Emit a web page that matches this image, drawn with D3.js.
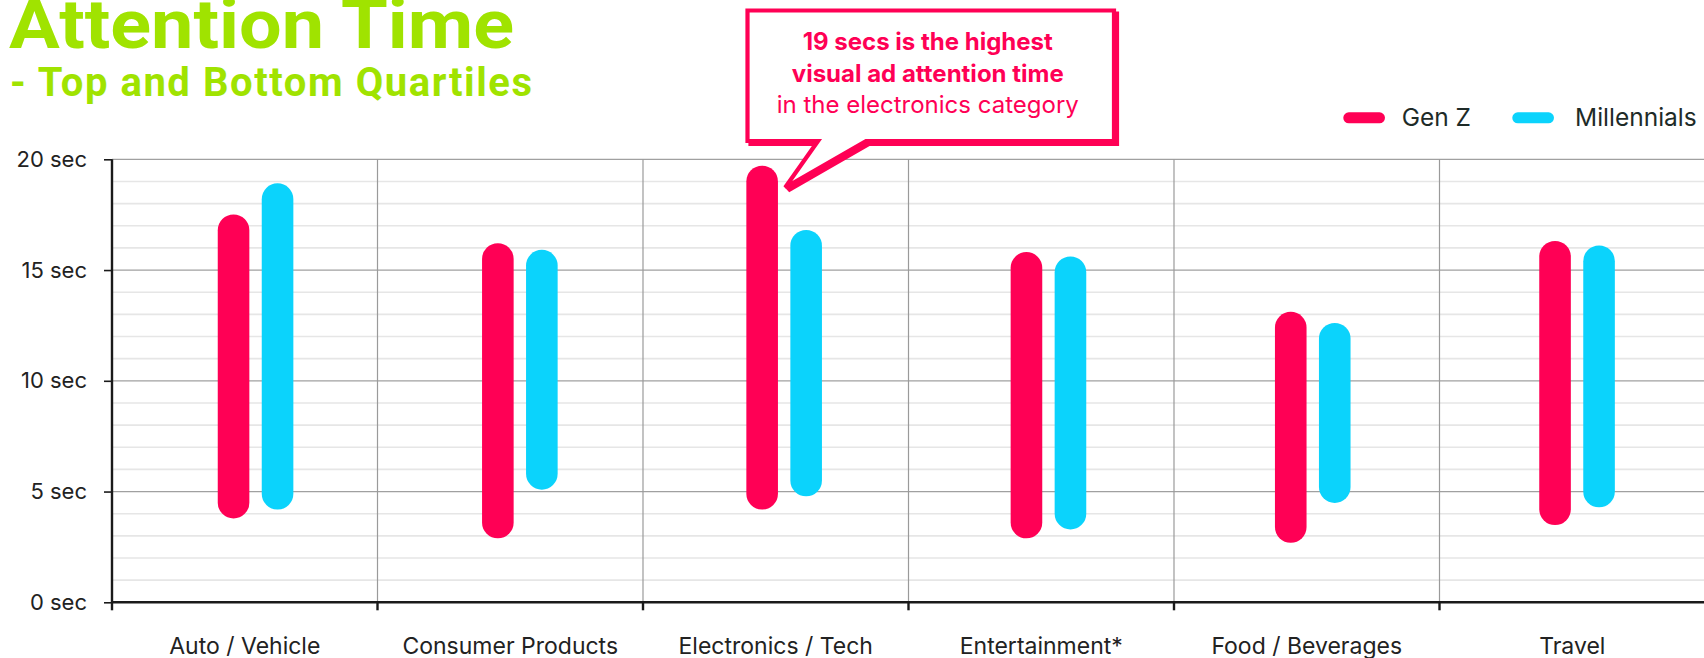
<!DOCTYPE html>
<html>
<head>
<meta charset="utf-8">
<script src="https://cdn.jsdelivr.net/npm/d3@7"></script>
<style>
  html, body { margin: 0; padding: 0; background: #ffffff; }
  svg { display: block; }
</style>
</head>
<body>
<svg id="chart" width="1704" height="658"></svg>
<script>
// Attention time ranges (bottom quartile to top quartile), seconds
const categories = ["Auto / Vehicle", "Consumer Products", "Electronics / Tech", "Entertainment*", "Food / Beverages", "Travel"];
const series = ["Gen Z", "Millennials"];
const genZLow = [4.5, 3.6, 4.9, 3.6, 3.4, 4.2];
const genZHigh = [16.8, 15.5, 19.0, 15.1, 12.4, 15.6];
const millLow = [4.9, 5.8, 5.5, 4.0, 5.2, 5.0];
const millHigh = [18.2, 15.2, 16.1, 14.9, 11.9, 15.4];
const yTicks = [0, 5, 10, 15, 20];
const seriesColors = ["#ff0055", "#0bd3fc"];
const calloutLines = ["19 secs is the highest", "visual ad attention time", "in the electronics category"];

const svg = d3.select("#chart");
const plot = { left: 112, right: 1705, top: 159.3, bottom: 602.3 };

const y = d3.scaleLinear().domain([0, 20]).range([plot.bottom, plot.top]);
const xCat = d3.scaleBand().domain(categories).range([plot.left, plot.right]);
const xMark = d3.scaleBand().domain(categories).range([123.4, 1709.2]);
const bw = xMark.bandwidth();
const xSeries = d3.scaleBand().domain(series).range([bw / 2 - 44, bw / 2 + 44]);
const markX = (cat, s) => xMark(cat) + xSeries(s) + xSeries.bandwidth() / 2;

const rows = categories.map((c, i) => ({
  cat: c,
  values: [
    { s: series[0], low: genZLow[i], high: genZHigh[i], color: seriesColors[0] },
    { s: series[1], low: millLow[i], high: millHigh[i], color: seriesColors[1] }
  ]
}));

// Minor gridlines, one per second
const grid = svg.append("g");
grid.selectAll("line.minor")
  .data(d3.range(1, 20).filter(v => v % 5 !== 0))
  .join("line")
  .attr("x1", plot.left).attr("x2", plot.right)
  .attr("y1", d => y(d)).attr("y2", d => y(d))
  .attr("stroke", "#e6e6e6").attr("stroke-width", 1.6);

// Major gridlines
grid.selectAll("line.major")
  .data(yTicks.filter(v => v > 0))
  .join("line")
  .attr("x1", plot.left).attr("x2", plot.right)
  .attr("y1", d => y(d)).attr("y2", d => y(d))
  .attr("stroke", "#a0a0a0").attr("stroke-width", 1.3);

// Category dividers
grid.selectAll("line.div")
  .data(categories.slice(1))
  .join("line")
  .attr("x1", d => xCat(d)).attr("x2", d => xCat(d))
  .attr("y1", y(20)).attr("y2", y(0))
  .attr("stroke", "#9a9a9a").attr("stroke-width", 1.2);

// Range marks
const marks = svg.append("g");
rows.forEach(r => {
  marks.selectAll(null)
    .data(r.values)
    .join("line")
    .attr("x1", d => markX(r.cat, d.s))
    .attr("x2", d => markX(r.cat, d.s))
    .attr("y1", d => y(d.low))
    .attr("y2", d => y(d.high))
    .attr("stroke", d => d.color)
    .attr("stroke-width", 31.6)
    .attr("stroke-linecap", "round");
});

// Y axis
const yAxis = svg.append("g")
  .attr("transform", `translate(${plot.left},0)`)
  .call(d3.axisLeft(y).tickValues(yTicks).tickSize(8).tickPadding(17).tickFormat(d => d + " sec"));
yAxis.select(".domain").attr("stroke", "#1a1a1a").attr("stroke-width", 2.4)
  .attr("d", `M0,${y(20)}V${y(0)}`);
yAxis.selectAll(".tick line").attr("stroke", "#1a1a1a").attr("stroke-width", 1.6);
yAxis.selectAll(".tick text")
  .attr("font-family", "Inter, Roboto, sans-serif")
  .attr("font-size", 22)
  .attr("fill", "#222222");

// X axis
const xAxis = svg.append("g")
  .attr("transform", `translate(0,${y(0)})`)
  .call(d3.axisBottom(xCat).tickSize(0));
xAxis.select(".domain").attr("stroke", "#1a1a1a").attr("stroke-width", 2.6)
  .attr("d", `M${plot.left},0H${plot.right}`);
xAxis.selectAll(".tick text")
  .attr("y", 52).attr("dy", 0)
  .attr("font-family", "Inter, Roboto, sans-serif")
  .attr("font-size", 23)
  .attr("fill", "#222222");
xAxis.selectAll("line.cattick")
  .data(categories)
  .join("line")
  .attr("class", "cattick")
  .attr("x1", d => xCat(d)).attr("x2", d => xCat(d))
  .attr("y1", 0).attr("y2", 8)
  .attr("stroke", "#1a1a1a").attr("stroke-width", 2.4);

// Title
svg.append("text")
  .attr("x", 9).attr("y", 47.7)
  .attr("font-family", "Roboto, sans-serif")
  .attr("font-weight", 700)
  .attr("font-size", 68)
  .attr("fill", "#a0e300")
  .attr("textLength", 505).attr("lengthAdjust", "spacingAndGlyphs")
  .text("Attention Time");
svg.append("text")
  .attr("x", 10).attr("y", 96)
  .attr("font-family", "Roboto, sans-serif")
  .attr("font-weight", 700)
  .attr("font-size", 40)
  .attr("fill", "#a0e300")
  .attr("textLength", 522).attr("lengthAdjust", "spacing")
  .text("- Top and Bottom Quartiles");

// Legend
const legend = svg.append("g");
const legendItems = [
  { s: series[0], x0: 1348.8, x1: 1379.5, tx: 1401.7, color: seriesColors[0] },
  { s: series[1], x0: 1517.8, x1: 1548.5, tx: 1575, color: seriesColors[1] }
];
legendItems.forEach(d => {
  legend.append("line")
    .attr("x1", d.x0).attr("x2", d.x1)
    .attr("y1", 117.8).attr("y2", 117.8)
    .attr("stroke", d.color).attr("stroke-width", 11)
    .attr("stroke-linecap", "round");
  legend.append("text")
    .attr("x", d.tx).attr("y", 126)
    .attr("font-family", "Inter, Roboto, sans-serif")
    .attr("font-size", 24.5)
    .attr("fill", "#1e2b28")
    .text(d.s);
});

// Callout bubble pointing at the Electronics Gen Z top
const tipX = markX("Electronics / Tech", "Gen Z") + 23;
const tipY = y(genZHigh[2]) + 6;
const box = { x0: 747.5, y0: 10.5, x1: 1114, y1: 141 };
const bubblePath = `M${box.x0},${box.y0}H${box.x1}V${box.y1}H866L${tipX},${tipY}L818,${box.y1}H${box.x0}Z`;
const callout = svg.append("g");
callout.append("path")
  .attr("d", bubblePath)
  .attr("transform", "translate(3,3)")
  .attr("fill", "#ff0055")
  .attr("stroke", "#ff0055").attr("stroke-width", 4.2).attr("stroke-linejoin", "miter");
callout.append("path")
  .attr("d", bubblePath)
  .attr("fill", "#ffffff")
  .attr("stroke", "#ff0055").attr("stroke-width", 4.2).attr("stroke-linejoin", "miter");
const cx = (box.x0 + box.x1) / 2;
calloutLines.forEach((t, i) => {
  callout.append("text")
    .attr("x", cx - 3).attr("y", 50 + i * 31.7)
    .attr("text-anchor", "middle")
    .attr("font-family", "Inter, Roboto, sans-serif")
    .attr("font-weight", i < 2 ? 700 : 400)
    .attr("font-size", 24)
    .attr("fill", "#ff0055")
    .text(t);
});
</script>
</body>
</html>
